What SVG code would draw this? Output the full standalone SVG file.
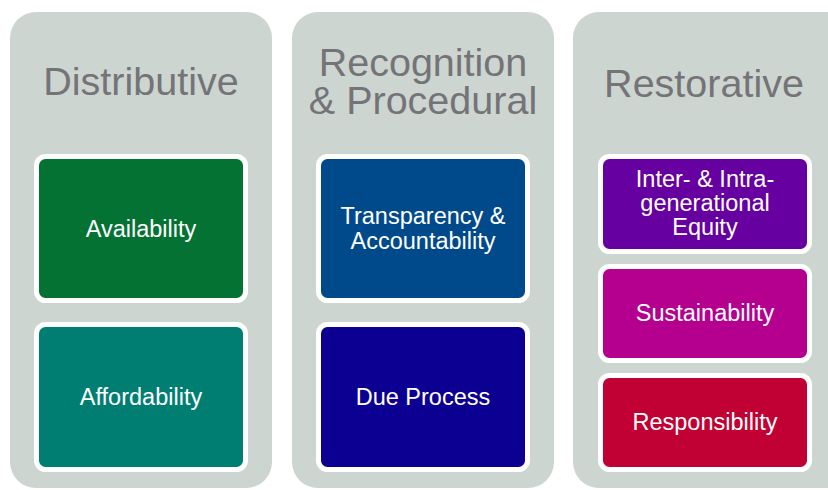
<svg xmlns="http://www.w3.org/2000/svg" width="828" height="490" viewBox="0 0 828 490">
<style>
.panel{fill:#CDD5D0}
.title{font-family:"Liberation Sans",Arial,sans-serif;font-size:39.5px;fill:#747478;text-anchor:middle}
.box{stroke:#FFFFFF;stroke-width:5}
.lbl{font-family:"Liberation Sans",Arial,sans-serif;font-size:23.5px;fill:#FFFFFF;text-anchor:middle}
</style>
<rect width="828" height="490" fill="#FFFFFF"/>
<g id="col-distributive">
<rect class="panel" x="10" y="12" width="262" height="476" rx="26"/>
<text class="title" x="141" y="95">Distributive</text>
</g>
<g id="col-recognition">
<rect class="panel" x="292" y="12" width="262" height="476" rx="26"/>
<text class="title" x="423" y="76">Recognition</text>
<text class="title" x="423" y="114">&amp; Procedural</text>
</g>
<g id="col-restorative">
<rect class="panel" x="573" y="12" width="290" height="476" rx="26"/>
<text class="title" x="704" y="97">Restorative</text>
</g>
<g id="availability">
<rect class="box" x="36.5" y="156.5" width="209" height="144" rx="9" fill="#037232"/>
<text class="lbl" x="141" y="237">Availability</text>
</g>
<g id="affordability">
<rect class="box" x="36.5" y="324.5" width="209" height="145" rx="9" fill="#007E71"/>
<text class="lbl" x="141" y="405">Affordability</text>
</g>
<g id="transparency">
<rect class="box" x="318.5" y="156.5" width="209" height="144" rx="9" fill="#004A8B"/>
<text class="lbl" x="423" y="224">Transparency &amp;</text>
<text class="lbl" x="423" y="249">Accountability</text>
</g>
<g id="due-process">
<rect class="box" x="318.5" y="324.5" width="209" height="145" rx="9" fill="#0C0093"/>
<text class="lbl" x="423" y="405">Due Process</text>
</g>
<g id="equity">
<rect class="box" x="600.5" y="156.5" width="209" height="95" rx="9" fill="#6600A1"/>
<text class="lbl" x="705" y="187">Inter- &amp; Intra-</text>
<text class="lbl" x="705" y="211">generational</text>
<text class="lbl" x="705" y="235">Equity</text>
</g>
<g id="sustainability">
<rect class="box" x="600.5" y="266.5" width="209" height="94" rx="9" fill="#B5008F"/>
<text class="lbl" x="705" y="321">Sustainability</text>
</g>
<g id="responsibility">
<rect class="box" x="600.5" y="375.5" width="209" height="94" rx="9" fill="#C10033"/>
<text class="lbl" x="705" y="430">Responsibility</text>
</g>
<g id="connectors"></g>
</svg>
